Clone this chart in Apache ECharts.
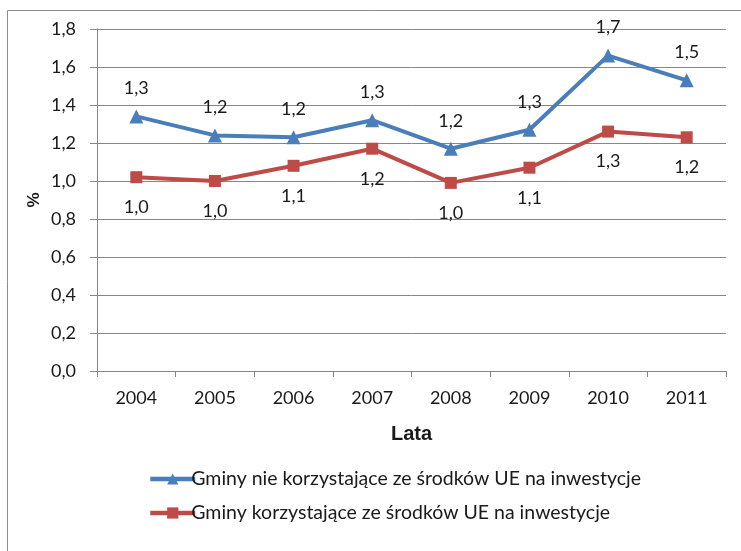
<!DOCTYPE html>
<html>
<head>
<meta charset="utf-8">
<script src="https://cdn.jsdelivr.net/npm/echarts@6/dist/echarts.min.js"></script>
<style>
html, body { margin: 0; padding: 0; background: #fff; }
#chart { width: 741px; height: 551px; }
</style>
</head>
<body>
<div id="chart"></div>
<script>
var years = ['2004', '2005', '2006', '2007', '2008', '2009', '2010', '2011'];
var bezUE = [1.34, 1.24, 1.23, 1.32, 1.17, 1.27, 1.66, 1.53];
var zUE = [1.02, 1.00, 1.08, 1.17, 0.99, 1.07, 1.26, 1.23];
var nazwaBez = 'Gminy nie korzystające ze środków UE na inwestycje';
var nazwaZ = 'Gminy korzystające ze środków UE na inwestycje';

var font = 'Lato';

function przecinek(v, d) {
    return v.toFixed(d).replace('.', ',');
}

var myChart = echarts.init(document.getElementById('chart'));

var option = {
    animation: false,
    textStyle: { fontFamily: font },
    graphic: [
        {
            type: 'rect',
            shape: { x: 7.5, y: 10.5, width: 760, height: 600 },
            style: { fill: 'none', stroke: '#8c8c8c', lineWidth: 1 },
            silent: true
        }
    ],
    grid: { left: 97, right: 15, top: 29, bottom: 180 },
    legend: {
        orient: 'vertical',
        left: 143,
        top: 464,
        itemGap: 14,
        itemWidth: 45,
        itemHeight: 14,
        lineStyle: { width: 4.5 },
        textStyle: { fontFamily: font, fontSize: 19.5, color: '#1a1a1a', padding: [0, 0, 0, -9] },
        data: [nazwaBez, nazwaZ]
    },
    xAxis: {
        type: 'category',
        data: years,
        boundaryGap: true,
        name: 'Lata',
        nameLocation: 'middle',
        nameGap: 53,
        nameTextStyle: { fontFamily: 'Liberation Sans', fontWeight: 'bold', fontSize: 20, color: '#1a1a1a' },
        axisLine: { lineStyle: { color: '#868686', width: 1 } },
        axisTick: { show: true, length: 6, alignWithLabel: false, lineStyle: { color: '#868686' } },
        axisLabel: { fontSize: 18, color: '#1a1a1a', margin: 18 }
    },
    yAxis: {
        type: 'value',
        min: 0,
        max: 1.8,
        interval: 0.2,
        name: '%',
        nameLocation: 'middle',
        nameGap: 54,
        nameRotate: 90,
        nameMoveOverlap: false,
        nameTextStyle: { fontFamily: 'Liberation Sans', fontWeight: 'bold', fontSize: 17, color: '#1a1a1a' },
        axisLine: { show: true, lineStyle: { color: '#868686', width: 1 } },
        axisTick: { show: true, length: 7, lineStyle: { color: '#868686' } },
        axisLabel: {
            fontSize: 18,
            color: '#1a1a1a',
            margin: 21,
            formatter: function (v) { return przecinek(v, 1); }
        },
        splitLine: { show: true, lineStyle: { color: '#868686', width: 1 } }
    },
    series: [
        {
            name: nazwaBez,
            type: 'line',
            data: bezUE,
            symbol: 'triangle',
            symbolSize: 14,
            itemStyle: { color: '#4a7ebb' },
            lineStyle: { color: '#4a7ebb', width: 4 },
            label: {
                show: true,
                position: 'top',
                distance: 12,
                fontSize: 18,
                color: '#1a1a1a',
                formatter: function (p) { return przecinek(p.value, 1); }
            }
        },
        {
            name: nazwaZ,
            type: 'line',
            data: zUE,
            symbol: 'rect',
            symbolSize: 12,
            itemStyle: { color: '#be4b48' },
            lineStyle: { color: '#be4b48', width: 4 },
            label: {
                show: true,
                position: 'bottom',
                distance: 15,
                fontSize: 18,
                color: '#1a1a1a',
                formatter: function (p) { return przecinek(p.value, 1); }
            }
        }
    ]
};

myChart.setOption(option);
</script>
</body>
</html>
